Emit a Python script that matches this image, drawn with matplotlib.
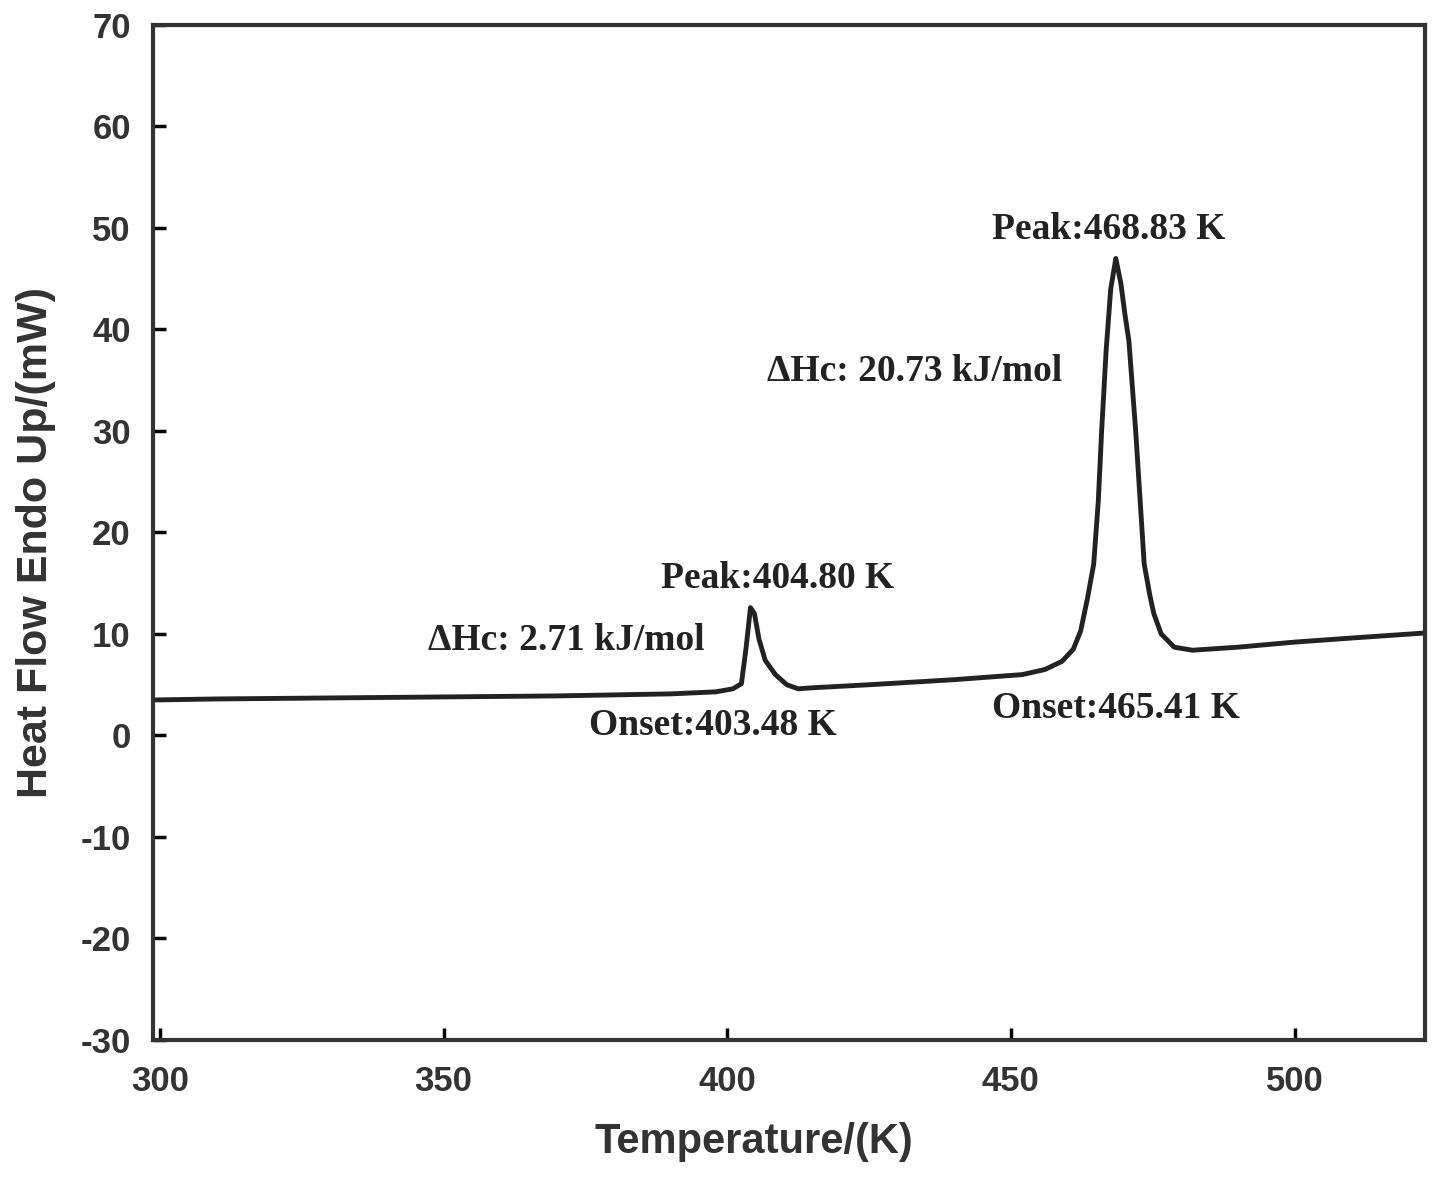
import matplotlib
matplotlib.use("Agg")
import matplotlib.pyplot as plt

plt.rcParams["axes.unicode_minus"] = False

# DSC curve
temp = [299, 310, 330, 350, 370, 390, 398, 401, 402.5, 403.3, 404.1, 404.8, 405.6, 406.7,
        408.5, 410.5, 412.5, 415, 425, 440, 452, 456, 459, 461, 462.3, 463.5, 464.6,
        465.4, 466.0, 466.8, 467.6, 468.5, 469.4, 470.1, 470.8, 472.0, 473.5, 474.5,
        475.2, 476.5, 478.8, 482, 490, 500, 510, 523]
heat = [3.5, 3.6, 3.7, 3.8, 3.9, 4.1, 4.3, 4.6, 5.1, 8.5, 12.6, 12.0, 9.5, 7.4,
        6.0, 5.0, 4.6, 4.7, 5.0, 5.5, 6.0, 6.5, 7.3, 8.5, 10.3, 13.5, 16.9,
        23.0, 30.0, 38.0, 44.0, 47.0, 44.5, 41.5, 38.9, 30.0, 16.9, 13.8,
        12.0, 10.0, 8.7, 8.4, 8.7, 9.2, 9.6, 10.1]

fig = plt.figure(figsize=(14.4, 11.79), dpi=100)
ax = fig.add_axes([0.1063, 0.1179, 0.8833, 0.8609])
ax.plot(temp, heat, color="#222222", linewidth=3.5)

ax.set_xlim(298.8, 523)
ax.set_ylim(-30, 70)
ax.set_xticks([300, 350, 400, 450, 500])
ax.set_yticks(range(-30, 71, 10))
ax.tick_params(direction="in", length=9, width=2.5, labelsize=25, top=False, right=False)
ax.tick_params(axis="x", pad=18)
ax.tick_params(axis="y", pad=16)
for lbl in ax.get_xticklabels() + ax.get_yticklabels():
    lbl.set_fontfamily("Liberation Sans")
    lbl.set_fontweight("bold")
    lbl.set_color("#333333")
for s in ax.spines.values():
    s.set_linewidth(3)
    s.set_color("#333333")

ax.set_xlabel("Temperature/(K)", fontsize=30, family="Liberation Sans", weight="bold",
              color="#333333")
ax.xaxis.set_label_coords(0.4725, -0.081)
ax.set_ylabel("Heat Flow Endo Up/(mW)", fontsize=31, family="Liberation Sans", weight="bold",
              color="#333333")
ax.yaxis.set_label_coords(-0.076, 0.49)

fs = 27
tf = dict(fontsize=fs, family="Liberation Serif", weight="bold", ha="center", va="center",
          color="#222222")
ax.text(467.3, 49.9, "Peak:468.83 K", **tf)
ax.text(433.1, 35.9, "ΔHc: 20.73 kJ/mol", **tf)
ax.text(408.8, 15.5, "Peak:404.80 K", **tf)
ax.text(371.7, 9.4, "ΔHc: 2.71 kJ/mol", **tf)
ax.text(397.5, 1.0, "Onset:403.48 K", **tf)
ax.text(468.5, 2.7, "Onset:465.41 K", **tf)

fig.savefig("out.png", dpi=100)
